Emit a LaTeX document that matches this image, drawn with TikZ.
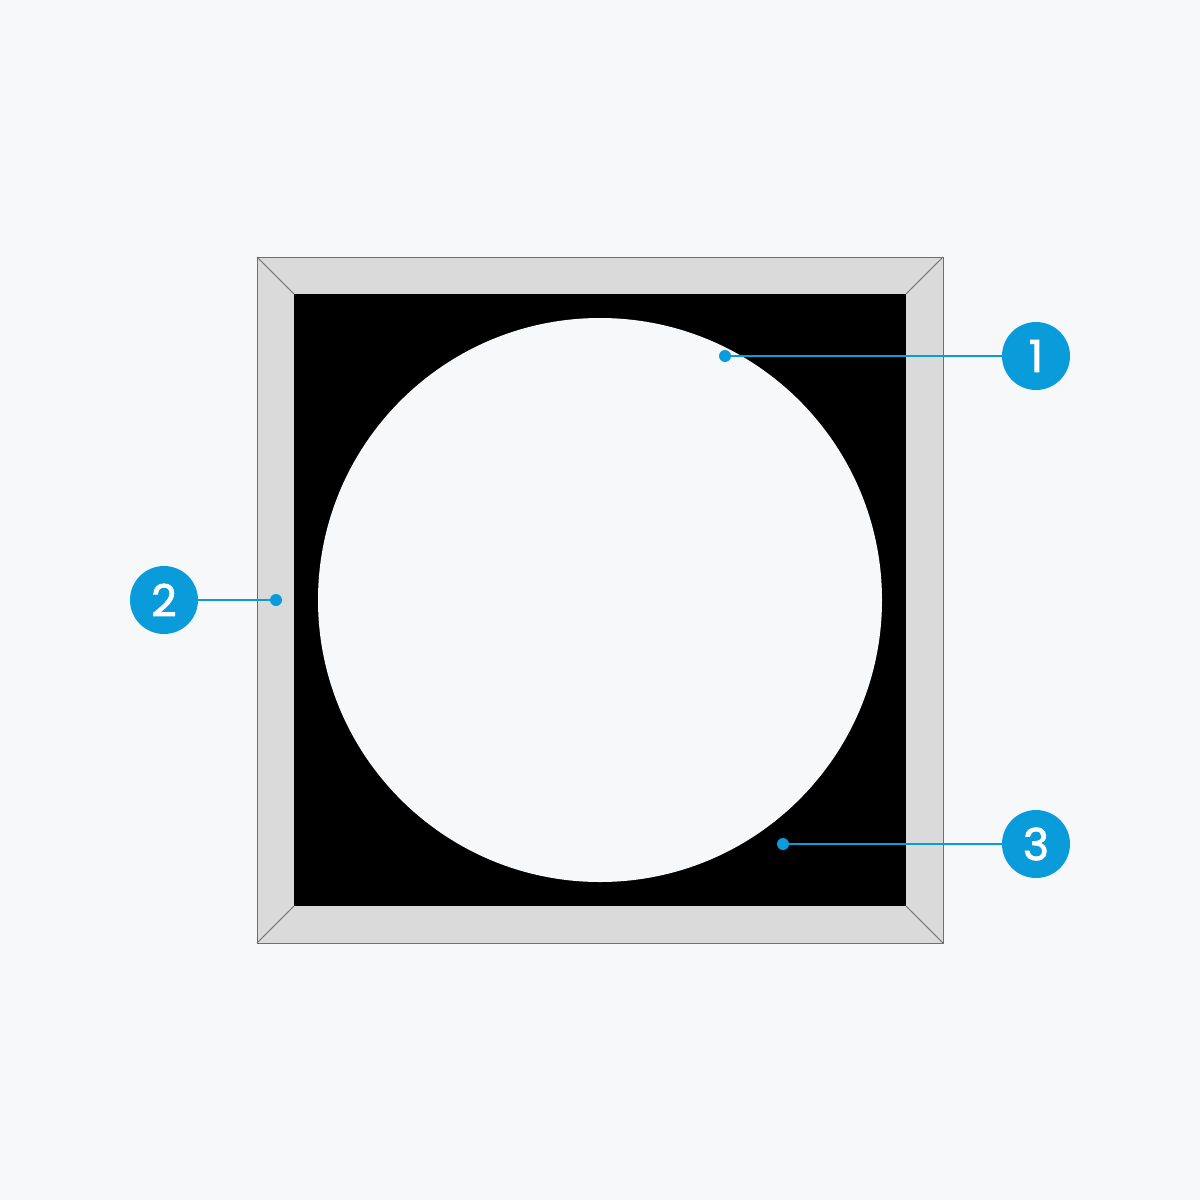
\documentclass[tikz,border=0pt]{standalone}
\usepackage{fontspec}
\setmainfont{Poppins}
\newfontfamily\badgefont{Poppins}[RawFeature={embolden=2}]
\definecolor{bg}{HTML}{F6F8FA}
\definecolor{framegray}{HTML}{DADADA}
\definecolor{edge}{HTML}{6E6E6E}
\definecolor{accent}{HTML}{0A9BDB}
\tikzset{
  badge/.style={circle, fill=accent, minimum size=34pt, inner sep=0pt, text=white, font=\badgefont\fontsize{22}{22}\selectfont},
  leader/.style={draw=accent, line width=1pt},
  tip/.style={circle, fill=accent, minimum size=6pt, inner sep=0pt},
}
\begin{document}
\begin{tikzpicture}[x=0.5pt,y=-0.5pt]
\fill[bg] (0,0) rectangle (1200,1200);
\useasboundingbox (0,0) rectangle (1200,1200);
% frame
\filldraw[fill=framegray, draw=edge, line width=0.5pt] (257,257) rectangle (943,943);
\draw[edge, line width=0.5pt] (257,257) -- (294,294) (943,257) -- (906,294) (257,943) -- (294,906) (943,943) -- (906,906);
\fill[black] (294,294) rectangle (906,906);
\fill[bg] (600,600) circle[radius=282];
% badges
\node[badge] (b1) at (1036,356) {1};
\node[badge] (b2) at (164,600) {2};
\node[badge] (b3) at (1036,844) {3};
\node[tip] (d1) at (725,356) {};
\node[tip] (d2) at (276,600) {};
\node[tip] (d3) at (783,844) {};
\draw[leader] (d1.center) -- (b1);
\draw[leader] (d2.center) -- (b2);
\draw[leader] (d3.center) -- (b3);
\end{tikzpicture}
\end{document}
